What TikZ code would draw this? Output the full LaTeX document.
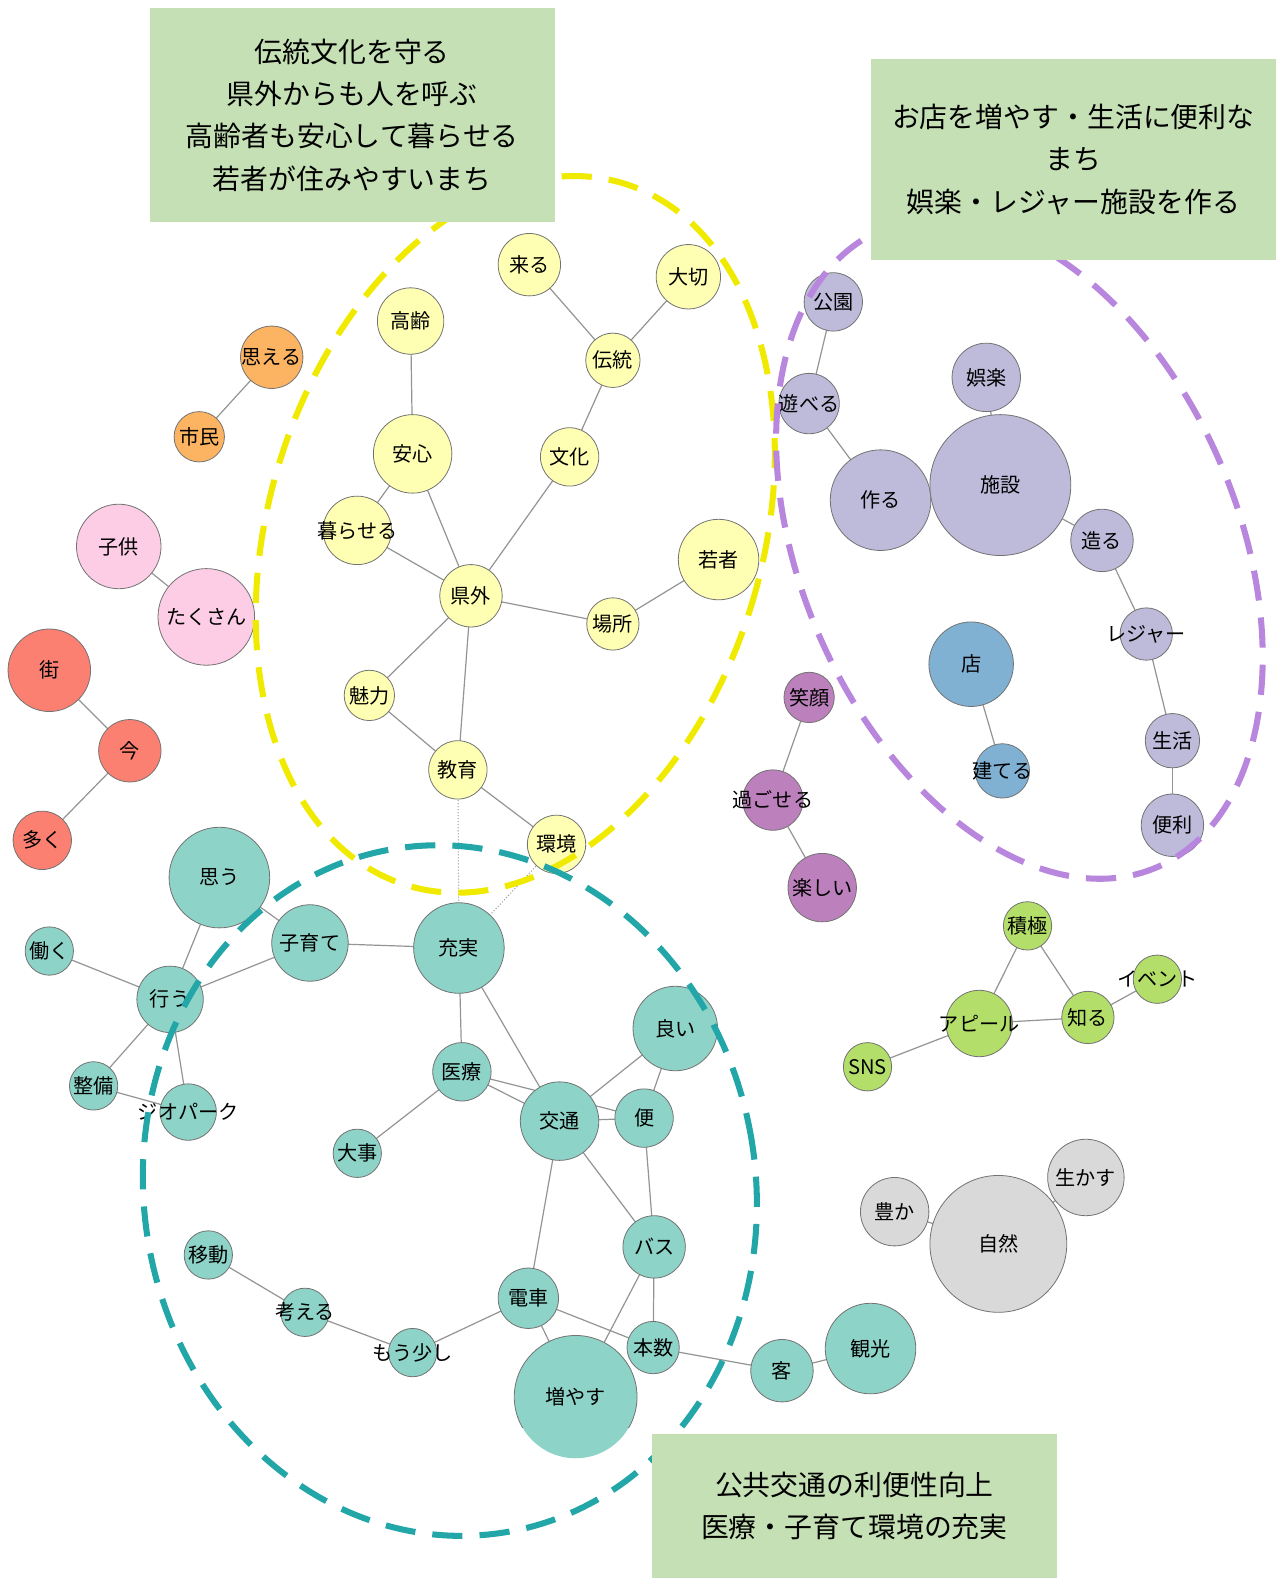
\documentclass[tikz,border=0pt]{standalone}
\usepackage{fontspec}
\setmainfont{Noto Sans CJK JP}
\definecolor{cY}{HTML}{FFFFB3}
\definecolor{cT}{HTML}{8DD3C7}
\definecolor{cL}{HTML}{BEBADA}
\definecolor{cS}{HTML}{FB8072}
\definecolor{cB}{HTML}{80B1D3}
\definecolor{cO}{HTML}{FDB462}
\definecolor{cG}{HTML}{B3DE69}
\definecolor{cP}{HTML}{FCCDE5}
\definecolor{cD}{HTML}{D9D9D9}
\definecolor{cV}{HTML}{BC80BD}
\definecolor{boxgreen}{HTML}{C5E0B4}
\definecolor{dashY}{HTML}{F0EA00}
\definecolor{dashT}{HTML}{22A6A8}
\definecolor{dashV}{HTML}{B886DD}
\pgfdeclarelayer{edges}\pgfdeclarelayer{ell}\pgfdeclarelayer{top}
\pgfsetlayers{edges,main,ell,top}
\newcommand\wn[6]{\node[wnode,fill=#5,minimum size=#4pt] (#1) at (#2,#3) {};\node[wlabel] at (#1.center) {#6};}
\begin{document}
\begin{tikzpicture}[x=1pt,y=-1pt,
  wnode/.style={circle,draw=black!55,line width=0.8pt,inner sep=0pt},
  wlabel/.style={inner sep=0pt,font=\fontsize{20}{24}\selectfont},
  edge/.style={draw=black!42,line width=1.2pt},
  dotedge/.style={draw=black!42,line width=1pt,dotted},
  grp/.style={line width=6pt,dash pattern=on 30pt off 17pt},
  box/.style={fill=boxgreen,inner sep=0pt},
  boxtext/.style={inner sep=0pt,align=center,font=\fontsize{27.7}{42}\selectfont}]
\useasboundingbox (0,0) rectangle (1275,1568);
% yellow cluster
\wn{kuru}{526}{263}{62}{cY}{来る}
\wn{taisetsu}{684}{275}{64}{cY}{大切}
\wn{dento}{609}{358}{54}{cY}{伝統}
\wn{korei}{408}{319}{66}{cY}{高齢}
\wn{anshin}{410}{451}{78}{cY}{安心}
\wn{bunka}{566}{454}{58}{cY}{文化}
\wn{kuraseru}{355}{527}{68}{cY}{暮らせる}
\wn{kengai}{468}{592}{62}{cY}{県外}
\wn{wakamono}{714}{556}{80}{cY}{若者}
\wn{basho}{609}{620}{52}{cY}{場所}
\wn{miryoku}{367}{691}{50}{cY}{魅力}
\wn{kyoiku}{455}{765}{58}{cY}{教育}
\wn{kankyo}{553}{839}{58}{cY}{環境}
% small groups left
\wn{omoeru}{270}{355}{62}{cO}{思える}
\wn{shimin}{198}{434}{50}{cO}{市民}
\wn{kodomo}{118}{543}{84}{cP}{子供}
\wn{takusan}{205}{613}{96}{cP}{たくさん}
\wn{machi}{49}{666}{82}{cS}{街}
\wn{ima}{129}{746}{62}{cS}{今}
\wn{ooku}{42}{835}{58}{cS}{多く}
% lavender cluster
\wn{koen}{828}{300}{58}{cL}{公園}
\wn{asoberu}{804}{401}{60}{cL}{遊べる}
\wn{goraku}{980}{375}{68}{cL}{娯楽}
\wn{tsukuru}{875}{497}{100}{cL}{作る}
\wn{shisetsu}{994}{482}{140}{cL}{施設}
\wn{tsukurub}{1095}{537}{62}{cL}{造る}
\wn{leisure}{1139}{630}{52}{cL}{レジャー}
\wn{seikatsu}{1165}{736}{54}{cL}{生活}
\wn{benri}{1165}{820}{62}{cL}{便利}
% blue, purple
\wn{mise}{965}{660}{84}{cB}{店}
\wn{tateru}{996}{766}{54}{cB}{建てる}
\wn{egao}{804}{693}{50}{cV}{笑顔}
\wn{sugoseru}{768}{795}{60}{cV}{過ごせる}
\wn{tanoshii}{817}{882}{68}{cV}{楽しい}
% green
\wn{sekkyoku}{1021}{920}{48}{cG}{積極}
\wn{appeal}{973}{1017}{66}{cG}{アピール}
\wn{shiru}{1081}{1011}{52}{cG}{知る}
\wn{event}{1150}{973}{48}{cG}{イベント}
\wn{sns}{862}{1060}{48}{cG}{SNS}
% gray
\wn{yutaka}{889}{1204}{68}{cD}{豊か}
\wn{shizen}{992}{1236}{136}{cD}{自然}
\wn{ikasu}{1079}{1170}{76}{cD}{生かす}
% teal cluster
\wn{omou}{218}{872}{100}{cT}{思う}
\wn{kosodate}{308}{937}{76}{cT}{子育て}
\wn{hataraku}{49}{945}{48}{cT}{働く}
\wn{okonau}{169}{993}{66}{cT}{行う}
\wn{seibi}{93}{1079}{48}{cT}{整備}
\wn{geopark}{187}{1105}{56}{cT}{ジオパーク}
\wn{jujitsu}{456}{942}{90}{cT}{充実}
\wn{iryo}{459}{1065}{58}{cT}{医療}
\wn{daiji}{355}{1146}{48}{cT}{大事}
\wn{kotsu}{556}{1114}{78}{cT}{交通}
\wn{yoi}{671}{1022}{84}{cT}{良い}
\wn{ben}{640}{1111}{58}{cT}{便}
\wn{bus}{650}{1239}{62}{cT}{バス}
\wn{densha}{525}{1290}{60}{cT}{電車}
\wn{honsu}{649}{1339}{52}{cT}{本数}
\node[wnode,draw=none,fill=cT,minimum size=122pt] (fuyasu) at (572,1388) {};
\begin{scope}
\clip (0,0) rectangle (1275,1418);
\node[wnode,minimum size=122pt] at (fuyasu.center) {};
\end{scope}
\node[wlabel] at (fuyasu.center) {増やす};
\wn{kyaku}{777}{1362}{62}{cT}{客}
\wn{kanko}{865}{1340}{90}{cT}{観光}
\wn{ido}{207}{1247}{48}{cT}{移動}
\wn{kangaeru}{303}{1304}{48}{cT}{考える}
\wn{mosukoshi}{410}{1344}{48}{cT}{もう少し}
\begin{pgfonlayer}{edges}
\foreach \a/\b in {kuru/dento,taisetsu/dento,dento/bunka,bunka/kengai,korei/anshin,anshin/kuraseru,anshin/kengai,kuraseru/kengai,kengai/basho,basho/wakamono,kengai/miryoku,kengai/kyoiku,miryoku/kyoiku,kyoiku/kankyo,
  omoeru/shimin,kodomo/takusan,machi/ima,ima/ooku,
  koen/asoberu,asoberu/tsukuru,tsukuru/shisetsu,goraku/shisetsu,shisetsu/tsukurub,tsukurub/leisure,leisure/seikatsu,seikatsu/benri,
  mise/tateru,egao/sugoseru,sugoseru/tanoshii,
  sekkyoku/appeal,sekkyoku/shiru,appeal/shiru,shiru/event,sns/appeal,
  yutaka/shizen,shizen/ikasu,
  omou/kosodate,omou/okonau,hataraku/okonau,okonau/kosodate,okonau/seibi,okonau/geopark,seibi/geopark,kosodate/jujitsu,jujitsu/iryo,jujitsu/kotsu,iryo/kotsu,iryo/ben,iryo/daiji,kotsu/ben,kotsu/yoi,yoi/ben,ben/bus,kotsu/bus,kotsu/densha,densha/fuyasu,densha/honsu,bus/fuyasu,bus/honsu,honsu/kyaku,kyaku/kanko,densha/mosukoshi,mosukoshi/kangaeru,kangaeru/ido}
  \draw[edge] (\a.center) -- (\b.center);
\draw[dotedge] (kyoiku.center) -- (jujitsu.center);
\draw[dotedge] (kankyo.center) -- (jujitsu.center);
\end{pgfonlayer}
\begin{pgfonlayer}{ell}
\coordinate (cy) at (512,531);
\coordinate (ct) at (447,1183);
\coordinate (cv) at (1013,545);
\draw[grp,dashY,rotate around={-17.3:(cy)}] (cy) ellipse [x radius=245pt,y radius=365pt];
\draw[grp,dashT,rotate around={9:(ct)}] (ct) ellipse [x radius=304pt,y radius=344pt];
\draw[grp,dashV,rotate around={23.4:(cv)}] (cv) ellipse [x radius=217pt,y radius=345pt];
\end{pgfonlayer}
\begin{pgfonlayer}{top}
\node[box,minimum width=402pt,minimum height=213pt] (b1) at (350,114.5) {};
\node[boxtext] at (b1.center) {伝統文化を守る\\県外からも人を呼ぶ\\高齢者も安心して暮らせる\\若者が住みやすいまち};
\node[box,minimum width=403pt,minimum height=199pt] (b2) at (1066.5,158.5) {};
\node[boxtext] at (b2.center) {お店を増やす・生活に便利な\\まち\\娯楽・レジャー施設を作る};
\node[box,minimum width=402pt,minimum height=143pt] (b3) at (849,1496.5) {};
\node[boxtext] at (b3.center) {公共交通の利便性向上\\医療・子育て環境の充実};
\end{pgfonlayer}
\end{tikzpicture}
\end{document}
